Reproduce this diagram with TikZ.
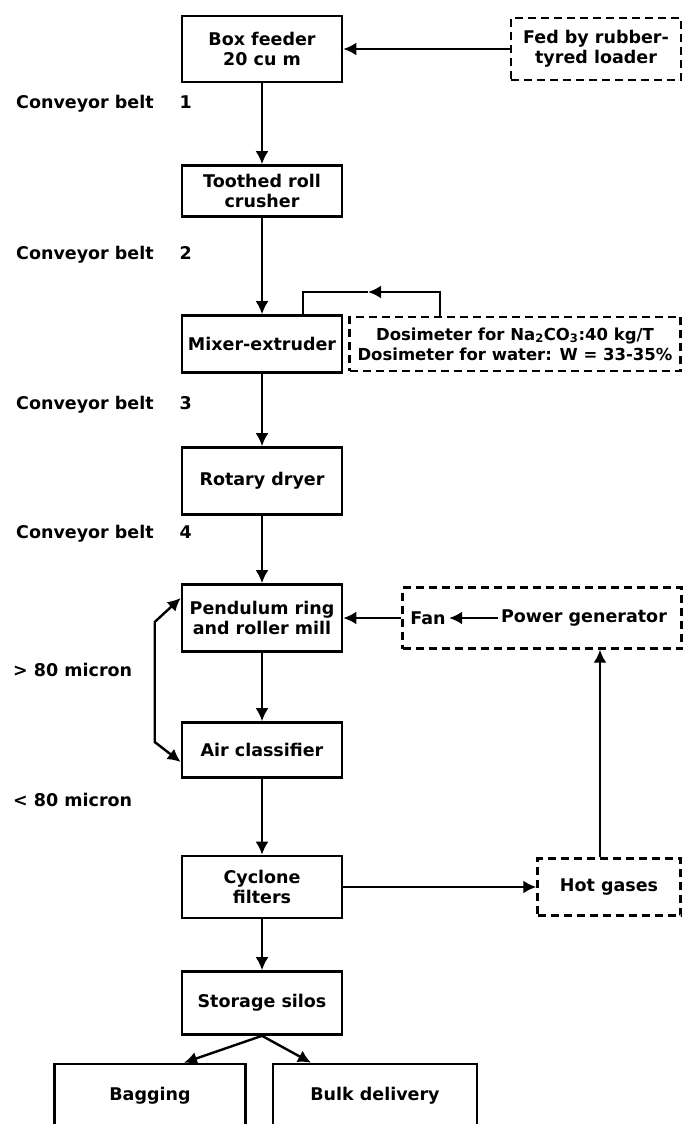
\documentclass[tikz,border=0pt]{standalone}
\usepackage{fontspec}
\setmainfont{DejaVu Sans}
\usepackage{tikz}
\usetikzlibrary{arrows.meta, positioning}
\tikzset{>={Latex[width=13pt,length=13pt]}}
\tikzset{
  box/.style = {draw, line width=2.6pt, minimum width=160pt, minimum height=58pt, align=center, inner sep=2pt},
  dashbox/.style = {draw, line width=2.4pt, dash pattern=on 8pt off 5pt, align=center, inner sep=1pt},
  sidetext/.style = {anchor=west, inner sep=0pt}
}

\begin{document}
\begin{tikzpicture}[x=1pt, y=-1pt, on grid, node distance=137pt,
    font=\bfseries\fontsize{17.5}{20}\selectfont]
		\useasboundingbox (0,0) rectangle (683,1124);
		% main line
		\node (feeder) [box, minimum height=66pt] at (262,49) {Box feeder\\20 cu m};
		\node (crusher) [box, minimum height=51pt, below = 142pt of feeder] {Toothed roll\\crusher};
		\node (mixer) [box, minimum height=57pt, below = 153pt of crusher] {Mixer-extruder};
		\node (dryer) [box, minimum height=67pt, below = of mixer] {Rotary dryer};
		\node (mill) [box, minimum height=67pt, below = of dryer] {Pendulum ring\\and roller mill};
		\node (classifier) [box, minimum height=55pt, below = 132pt of mill] {Air classifier};
		\node (cyclone) [box, minimum height=62pt, below = of classifier] {Cyclone\\filters};
		\node (silos) [box, minimum height=63pt, below = 116pt of cyclone] {Storage silos};
		\node (bagging) [box, minimum width=191pt, minimum height=64pt] at (150,1096) {Bagging};
		\node (bulk) [box, minimum width=204pt, minimum height=64pt] at (375,1096) {Bulk delivery};
		% side boxes
		\node (loader) [dashbox, minimum width=170pt, minimum height=62pt, right = 334pt of feeder] {Fed by rubber-\\tyred loader};
		\node (dosing) [dashbox, minimum width=331pt, minimum height=54pt, right = 253pt of mixer, font=\bfseries\fontsize{16.5}{20}\selectfont] {Dosimeter for Na\textsubscript{2}CO\textsubscript{3}:40 kg/T\\Dosimeter for water: W = 33-35\%};
		\node (fanbox) [dashbox, minimum width=279pt, minimum height=61pt, right = 280pt of mill] {};
		\node (fan) [right = 166pt of mill] {Fan};
		\node (power) [right = 156pt of fan] {Power generator};
		\node (gases) [dashbox, minimum width=143pt, minimum height=57pt, right = 347pt of cyclone] {Hot gases};
		% left labels
		\node (belt1) [sidetext] at (16,104) {Conveyor belt\hspace{26pt}1};
		\node (belt2) [sidetext] at (16,255) {Conveyor belt\hspace{26pt}2};
		\node (belt3) [sidetext] at (16,405) {Conveyor belt\hspace{26pt}3};
		\node (belt4) [sidetext] at (16,534) {Conveyor belt\hspace{26pt}4};
		\node (coarse) [sidetext] at (13,670) {> 80 micron};
		\node (fine) [sidetext] at (13,800) {< 80 micron};
		\coordinate (recycle) at (368,292);
		\path[->, line width=2.4pt]
			(loader) edge (feeder)
			(feeder) edge (crusher)
			(crusher) edge (mixer)
			(mixer) edge (dryer)
			(dryer) edge (mill)
			(mill) edge (classifier)
			(classifier) edge (cyclone)
			(cyclone) edge (silos)
			(silos.south) edge ([xshift=34pt]bagging.north)
			(silos.south) edge ([xshift=-64pt]bulk.north)
			(fanbox) edge (mill)
			(power) edge (fan)
			(cyclone) edge (gases)
			([xshift=-9pt]gases.north) edge ([xshift=-9pt]gases.north |- fanbox.south);
		\draw[->, line width=2.4pt] ([xshift=-75pt]dosing.north) |- (recycle);
		\draw[line width=2.4pt] (recycle) -| ([xshift=41pt]mixer.north);
		\draw[<->, line width=2.4pt] ([yshift=20pt]mill.west) -- ++(-26,24) -- ++(0,120) -- ([yshift=-12pt]classifier.west);
	\end{tikzpicture}
\end{document}
